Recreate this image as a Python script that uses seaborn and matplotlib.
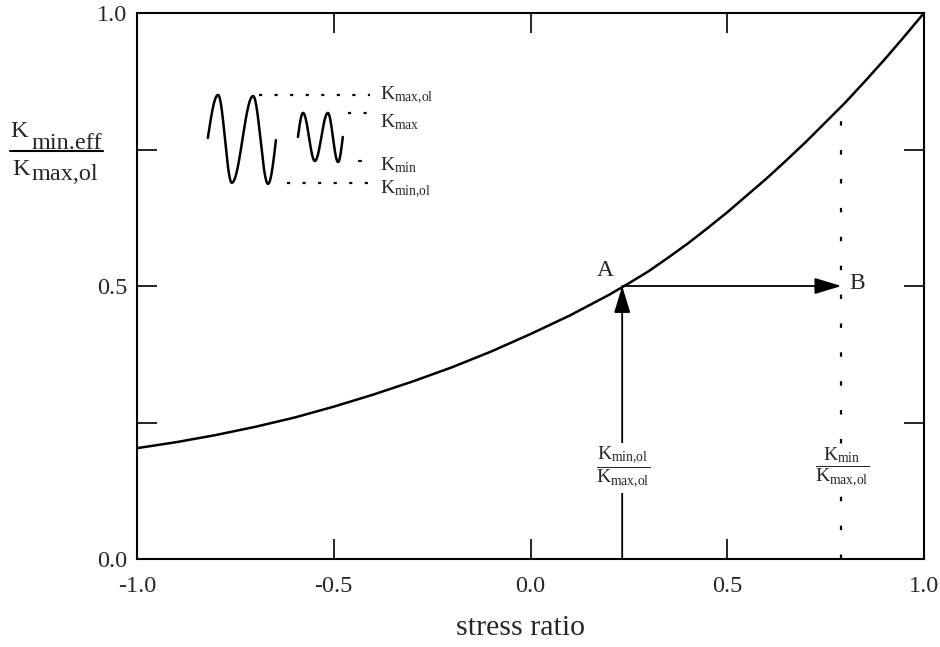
import numpy as np
import pandas as pd
import matplotlib
matplotlib.use("Agg")
import matplotlib.pyplot as plt
from matplotlib.lines import Line2D
import seaborn as sns

# Normalised effective minimum stress intensity vs. stress ratio
stress_ratio = [-1.0, -0.9, -0.8, -0.7, -0.6, -0.5, -0.4, -0.3, -0.2, -0.1,
                0.0, 0.1, 0.2, 0.25, 0.3, 0.35, 0.4, 0.45, 0.5, 0.55, 0.6,
                0.65, 0.7, 0.75, 0.8, 0.85, 0.9, 0.95, 1.0]
k_ratio = [0.203, 0.214, 0.227, 0.242, 0.259, 0.279, 0.301, 0.325, 0.351, 0.380,
           0.412, 0.446, 0.484, 0.505, 0.527, 0.552, 0.578, 0.606, 0.635, 0.666,
           0.697, 0.730, 0.764, 0.800, 0.836, 0.875, 0.915, 0.957, 1.0]

# Construction points: A on the curve, B at the new stress ratio
point_a = (0.233, 0.5)
point_b = (0.79, 0.5)
curve_at_b = 0.826

x_ticks = [-1.0, -0.5, 0.0, 0.5, 1.0]
y_major = [0.0, 0.5, 1.0]
y_minor = [0.25, 0.75]

# Load-history sketch: extrema of the overload cycles and the smaller cycles
big_wave_x = [-0.820, -0.794, -0.759, -0.705, -0.667, -0.647]
big_wave_y = [0.771, 0.850, 0.689, 0.848, 0.687, 0.767]
small_wave_x = [-0.591, -0.578, -0.548, -0.515, -0.489, -0.477]
small_wave_y = [0.773, 0.817, 0.729, 0.817, 0.727, 0.773]

sns.set_style("ticks")
plt.rcParams["font.family"] = ["Liberation Serif", "DejaVu Serif"]
plt.rcParams["mathtext.fontset"] = "custom"
plt.rcParams["mathtext.rm"] = "Liberation Serif"
plt.rcParams["mathtext.it"] = "Liberation Serif:italic"

W, H = 940, 647
fig = plt.figure(figsize=(W / 100, H / 100), dpi=100)
L, R, T, B = 137, 924, 13, 559
ax = fig.add_axes([L / W, 1 - B / H, (R - L) / W, (B - T) / H])

df = pd.DataFrame({"R": stress_ratio, "K": k_ratio})
sns.lineplot(data=df, x="R", y="K", color="black", linewidth=1.8, ax=ax)

ax.set_xlim(-1.0, 1.0)
ax.set_ylim(0.0, 1.0)
ax.set_xticks(x_ticks)
ax.set_xticklabels([f"{v:.1f}" for v in x_ticks])
ax.set_yticks(y_major)
ax.set_yticklabels([f"{v:.1f}" for v in y_major])
ax.set_yticks(y_minor, minor=True)
for s in ax.spines.values():
    s.set_visible(True)
    s.set_linewidth(1.5)
    s.set_color("black")
ax.tick_params(axis="both", which="both", direction="in", length=14.5, width=1.2,
               top=True, right=True, color="black")
ax.tick_params(axis="x", which="major", labelsize=17.5, pad=12)
ax.tick_params(axis="y", which="major", labelsize=17.5, pad=7)
ax.set_xlabel("stress ratio", fontsize=21.5)
ax.xaxis.set_label_coords((521 - L) / (R - L), -0.103)
ax.set_ylabel("")


def eased_path(xs, ys, n=30):
    """Smooth wave through its extrema using cosine easing between them."""
    px, py = [], []
    last = len(xs) - 2
    for i in range(len(xs) - 1):
        t = np.linspace(0, 1, n)
        if i == 0:
            f = np.sin(np.pi / 2 * t)
        elif i == last:
            f = 1 - np.cos(np.pi / 2 * t)
        else:
            f = (1 - np.cos(np.pi * t)) / 2
        px.extend(xs[i] + (xs[i + 1] - xs[i]) * t)
        py.extend(ys[i] + (ys[i + 1] - ys[i]) * f)
    return px, py


for wx, wy in [(big_wave_x, big_wave_y), (small_wave_x, small_wave_y)]:
    px, py = eased_path(wx, wy)
    ax.plot(px, py, color="black", lw=1.8, solid_capstyle="round")

dot_kw = dict(color="black", lw=1.6, dashes=(1.4, 5.6), dash_capstyle="butt")
ax.plot([-0.690, -0.408], [0.850, 0.850], **dot_kw)
ax.plot([-0.464, -0.408], [0.817, 0.817], **dot_kw)
ax.plot([-0.436, -0.430], [0.729, 0.729], color="black", lw=1.6)
ax.plot([-0.619, -0.414], [0.688, 0.688], **dot_kw)

lab_x = -0.382
lab_fs = 14
ax.text(lab_x, 0.841, r"$\mathrm{K_{max{,}ol}}$", fontsize=lab_fs, va="baseline", ha="left")
ax.text(lab_x, 0.791, r"$\mathrm{K_{max}}$", fontsize=lab_fs, va="baseline", ha="left")
ax.text(lab_x, 0.712, r"$\mathrm{K_{min}}$", fontsize=lab_fs, va="baseline", ha="left")
ax.text(lab_x, 0.670, r"$\mathrm{K_{min{,}ol}}$", fontsize=lab_fs, va="baseline", ha="left")

# Construction: vertical arrow up to A, horizontal arrow A -> B, dotted line at B
arrow_kw = dict(arrowstyle="-|>,head_length=1.65,head_width=0.5", color="black",
                lw=1.3, shrinkA=0, shrinkB=0, mutation_scale=10)
ax.annotate("", xy=point_a, xytext=(point_a[0], 0.0), arrowprops=arrow_kw)
ax.annotate("", xy=point_b, xytext=point_a, arrowprops=arrow_kw)
ax.plot([point_b[0], point_b[0]], [0.0, curve_at_b], color="black", lw=1.6,
        dashes=(2.0, 11.0))

ax.text(0.189, 0.529, "A", fontsize=17, ha="center", va="center")
ax.text(0.830, 0.505, "B", fontsize=17, ha="center", va="center")

box = dict(facecolor="white", edgecolor="none", pad=1.5)
ax.text(point_a[0] + 0.003, 0.167,
        r"$\dfrac{\mathrm{K_{min{,}ol}}}{\mathrm{K_{max{,}ol}}}$",
        fontsize=14, ha="center", va="center", bbox=box)
ax.text(point_b[0] + 0.003, 0.167,
        r"$\dfrac{\mathrm{K_{min}}}{\mathrm{K_{max{,}ol}}}$",
        fontsize=14, ha="center", va="center", bbox=box)

# y-axis quantity written as a fraction with full-size subscripts
fs = 17.5
fig.text(10 / W, 1 - 137 / H, "K", fontsize=fs, va="baseline", ha="left")
fig.text(32 / W, 1 - 149 / H, "min.eff", fontsize=fs, va="baseline", ha="left")
fig.text(12 / W, 1 - 175 / H, "K", fontsize=fs, va="baseline", ha="left")
fig.text(32 / W, 1 - 180 / H, "max,ol", fontsize=fs, va="baseline", ha="left")
fig.add_artist(Line2D([10 / W, 103 / W], [1 - 151 / H, 1 - 151 / H],
                      transform=fig.transFigure, color="black", lw=1.5))

fig.savefig("out.png", dpi=100)
